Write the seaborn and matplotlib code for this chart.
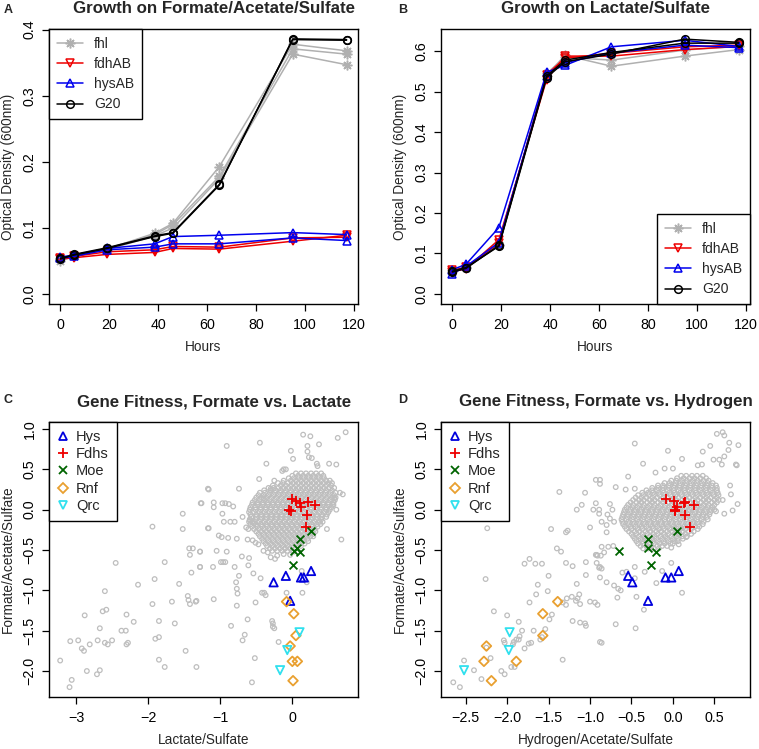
import numpy as np
import pandas as pd
import matplotlib
matplotlib.use('Agg')
import matplotlib.pyplot as plt
import seaborn as sns
from matplotlib.lines import Line2D

# ---- growth curves (panels A and B) ----
hours = [0, 5.5, 19, 38.5, 46, 65, 95, 117]
strains = ['fhl', 'fdhAB', 'hysAB', 'G20']

# formate/acetate/sulfate, replicates per strain
fa_fhl = [[0.050, 0.057, 0.068, 0.092, 0.107, 0.193, 0.378, 0.368],
          [0.053, 0.058, 0.069, 0.090, 0.105, 0.178, 0.371, 0.363],
          [0.055, 0.059, 0.067, 0.088, 0.100, 0.175, 0.363, 0.347]]
fa_fdhAB = [[0.053, 0.055, 0.060, 0.063, 0.069, 0.068, 0.080, 0.089],
            [0.055, 0.057, 0.064, 0.067, 0.072, 0.071, 0.085, 0.086]]
fa_hysAB = [[0.056, 0.059, 0.069, 0.076, 0.087, 0.089, 0.093, 0.090],
            [0.054, 0.057, 0.067, 0.071, 0.076, 0.076, 0.085, 0.081]]
fa_g20 = [[0.054, 0.059, 0.069, 0.087, 0.092, 0.165, 0.386, 0.385],
          [0.053, 0.060, 0.070, 0.088, 0.093, 0.166, 0.385, 0.384]]

# lactate/sulfate
la_fhl = [[0.058, 0.066, 0.122, 0.540, 0.590, 0.563, 0.588, 0.604],
          [0.055, 0.064, 0.120, 0.545, 0.585, 0.578, 0.603, 0.612]]
la_fdhAB = [[0.055, 0.062, 0.134, 0.530, 0.588, 0.588, 0.604, 0.612],
            [0.058, 0.066, 0.125, 0.542, 0.583, 0.595, 0.611, 0.615]]
la_hysAB = [[0.060, 0.073, 0.164, 0.548, 0.565, 0.611, 0.627, 0.612],
            [0.050, 0.068, 0.127, 0.540, 0.572, 0.596, 0.615, 0.609]]
la_g20 = [[0.056, 0.065, 0.118, 0.535, 0.574, 0.593, 0.630, 0.622],
          [0.054, 0.063, 0.120, 0.538, 0.578, 0.597, 0.620, 0.620]]

# ---- gene fitness (panels C and D) ----
# background genes, panel C (lactate x, formate y)
c_bg_x = [-1.17, -1.27, -1.52, -1.94, -1.52, -1.17, -1.43, -1.38, -1.42, -1.28, -2.45, -1.77,
          -1.40, -1.28, -1.91, -2.14, -1.57, -2.60, -1.45, -1.44, -1.42, -1.34, -1.33, -1.94,
          -1.67, -2.63, -2.58, -2.88, -2.30, -1.85, -1.63, -2.20, -2.67, -2.37, -2.31, -3.08,
          -2.97, -2.81, -2.70, -2.60, -2.56, -2.50, -2.30, -2.28, -1.90, -1.85, -2.92, -2.89,
          -1.48, -3.22, -1.85, -1.77, -1.33, -2.85, -2.71, -2.67, -3.06, -3.09,
          -0.91, -0.45, 0.15, 0.25, 0.74, 0.63, -0.02, 0.21, 0.37, 0.21, 0.23, 0.27, 0.01,
          -0.36, 0.34, 0.35, 0.51, 0.61, -0.12, -0.09, -0.14, -1.16, -0.74, -0.46, -0.30,
          -0.25, -0.40, -1.26, -1.09, -0.97, -0.93, -0.88, -0.82, -1.09, -0.97, -1.16, -0.95,
          -0.86, -0.80, -0.69, -0.59, -0.56, -0.53, -0.64, -0.61, -1.02, -0.98, -0.89, -0.77,
          -0.62, -0.55, -0.51, -0.47, -1.05, -0.91, -0.70, -0.60, -0.40, -0.34, -0.30, -0.24,
          -0.21, -0.12, -0.03, 0.02, -0.10, -1.28, -1.28, -1.10, -0.99, -0.96, -0.93, -0.80,
          -0.61, -0.54, -0.44, -0.74, -0.78, -0.77, -0.76, -0.42, -0.39, -0.37, -1.09, -0.51,
          -0.77, -0.62, -0.28, -0.27, -0.27, -0.25, -0.85, -0.66, -0.69, -0.19, -0.52, -0.56,
          -0.08, 0.14, 0.20, 0.68, 0.61, 0.70, 0.58, 0.57, 0.29, 0.48, 0.13, 0.66]
c_bg_y = [0.26, 0.08, -0.05, -0.21, -0.24, -0.23, -0.48, -0.48, -0.56, -0.52, -0.66, -0.65,
          -0.78, -0.71, -0.86, -0.93, -0.92, -1.01, -1.07, -1.12, -1.17, -1.14, -1.13, -1.17,
          -1.14, -1.26, -1.24, -1.31, -1.30, -1.38, -1.41, -1.39, -1.47, -1.50, -1.50, -1.63,
          -1.62, -1.67, -1.62, -1.65, -1.67, -1.62, -1.67, -1.65, -1.60, -1.58, -1.72, -1.75,
          -1.75, -1.87, -1.86, -1.95, -1.95, -2.00, -2.04, -1.99, -2.11, -2.20,
          0.79, 0.83, 0.93, 0.91, 0.96, 0.89, 0.73, 0.79, 0.81, 0.72, 0.65, 0.64, 0.63,
          0.57, 0.57, 0.54, 0.57, 0.56, 0.50, 0.50, 0.48, 0.25, 0.26, 0.38, 0.26,
          0.36, 0.14, 0.08, 0.09, 0.08, 0.08, 0.07, 0.04, 0.03, -0.05, -0.23, -0.15,
          -0.15, -0.15, -0.09, -0.13, -0.15, -0.17, -0.22, -0.24, -0.32, -0.34, -0.35, -0.36,
          -0.37, -0.38, -0.41, -0.43, -0.51, -0.52, -0.58, -0.60, -0.51, -0.53, -0.59, -0.61,
          -0.57, -0.55, -0.56, -0.52, -0.48, -0.52, -0.71, -0.71, -0.65, -0.65, -0.65, -0.71,
          -0.69, -0.79, -0.85, -0.82, -0.90, -0.98, -1.04, -1.03, -1.03, -1.06, -1.11, -1.15,
          -1.19, -1.36, -1.38, -1.41, -1.45, -1.47, -1.44, -1.55, -1.62, -1.64, -1.84, -2.14,
          -1.03, -1.03, -0.90, -0.37, 0.00, 0.19, 0.14, 0.06, -0.33, -0.24, -0.76, 0.21]
# dense core of panel C, one row of lactate values per formate level
c_core = [(0.45, [0.05, 0.12, 0.19, 0.26, 0.33, 0.40]),
          (0.42, [0.00, 0.08, 0.15, 0.22, 0.29, 0.36, 0.43]),
          (0.39, [-0.05, 0.02, 0.09, 0.16, 0.23, 0.30, 0.37, 0.44]),
          (0.36, [-0.12, -0.02, 0.05, 0.12, 0.19, 0.26, 0.33, 0.40, 0.47, 0.52]),
          (0.33, [-0.20, -0.13, -0.06, 0.01, 0.08, 0.15, 0.22, 0.29, 0.36, 0.43, 0.50, 0.55]),
          (0.30, [-0.27, -0.16, -0.09, -0.02, 0.05, 0.12, 0.19, 0.26, 0.33, 0.40, 0.47, 0.54]),
          (0.27, [-0.33, -0.26, -0.19, -0.12, -0.05, 0.02, 0.09, 0.16, 0.23, 0.30, 0.37, 0.44,
                  0.51, 0.58]),
          (0.24, [-0.39, -0.30, -0.23, -0.16, -0.09, -0.02, 0.05, 0.12, 0.19, 0.26, 0.33, 0.40,
                  0.47, 0.55]),
          (0.21, [-0.45, -0.38, -0.31, -0.24, -0.17, -0.10, -0.03, 0.04, 0.11, 0.18, 0.25, 0.32,
                  0.39, 0.46, 0.53, 0.60]),
          (0.18, [-0.47, -0.40, -0.33, -0.26, -0.19, -0.12, -0.05, 0.02, 0.09, 0.16, 0.23, 0.30,
                  0.37, 0.44, 0.51, 0.58]),
          (0.15, [-0.50, -0.43, -0.36, -0.29, -0.22, -0.15, -0.08, -0.01, 0.06, 0.13, 0.20, 0.27,
                  0.34, 0.41, 0.48, 0.55, 0.60]),
          (0.12, [-0.52, -0.45, -0.38, -0.31, -0.24, -0.17, -0.10, -0.03, 0.04, 0.11, 0.18, 0.25,
                  0.32, 0.39, 0.46, 0.53, 0.59]),
          (0.09, [-0.55, -0.48, -0.41, -0.34, -0.27, -0.20, -0.13, -0.06, 0.01, 0.08, 0.15, 0.22,
                  0.29, 0.36, 0.43, 0.50, 0.57]),
          (0.06, [-0.56, -0.48, -0.41, -0.34, -0.27, -0.20, -0.13, -0.06, 0.01, 0.08, 0.15, 0.22,
                  0.29, 0.36, 0.43, 0.50, 0.56]),
          (0.03, [-0.58, -0.51, -0.44, -0.37, -0.30, -0.23, -0.16, -0.09, -0.02, 0.05, 0.12, 0.19,
                  0.26, 0.33, 0.40, 0.47, 0.54]),
          (0.00, [-0.59, -0.51, -0.44, -0.37, -0.30, -0.23, -0.16, -0.09, -0.02, 0.05, 0.12, 0.19,
                  0.26, 0.33, 0.40, 0.47, 0.52]),
          (-0.03, [-0.60, -0.53, -0.46, -0.39, -0.32, -0.25, -0.18, -0.11, -0.04, 0.03, 0.10,
                   0.17, 0.24, 0.31, 0.38, 0.45, 0.50]),
          (-0.06, [-0.58, -0.50, -0.43, -0.36, -0.29, -0.22, -0.15, -0.08, -0.01, 0.06, 0.13,
                   0.20, 0.27, 0.34, 0.41, 0.48]),
          (-0.09, [-0.57, -0.50, -0.43, -0.36, -0.29, -0.22, -0.15, -0.08, -0.01, 0.06, 0.13,
                   0.20, 0.27, 0.34, 0.41, 0.47]),
          (-0.12, [-0.59, -0.51, -0.44, -0.37, -0.30, -0.23, -0.16, -0.09, -0.02, 0.05, 0.12,
                   0.19, 0.26, 0.33, 0.40]),
          (-0.15, [-0.60, -0.53, -0.46, -0.39, -0.32, -0.25, -0.18, -0.11, -0.04, 0.03, 0.10,
                   0.17, 0.24, 0.31, 0.38, 0.42]),
          (-0.18, [-0.58, -0.50, -0.43, -0.36, -0.29, -0.22, -0.15, -0.08, -0.01, 0.06, 0.13,
                   0.20, 0.27, 0.34, 0.39]),
          (-0.21, [-0.56, -0.49, -0.42, -0.35, -0.28, -0.21, -0.14, -0.07, 0.00, 0.07, 0.14,
                   0.21, 0.28, 0.35]),
          (-0.24, [-0.53, -0.46, -0.39, -0.32, -0.25, -0.18, -0.11, -0.04, 0.03, 0.10, 0.17,
                   0.24, 0.31]),
          (-0.27, [-0.50, -0.43, -0.36, -0.29, -0.22, -0.15, -0.08, -0.01, 0.06, 0.13, 0.20,
                   0.27, 0.32]),
          (-0.30, [-0.47, -0.40, -0.33, -0.26, -0.19, -0.12, -0.05, 0.02, 0.09, 0.16, 0.23,
                   0.29]),
          (-0.33, [-0.45, -0.38, -0.31, -0.24, -0.17, -0.10, -0.03, 0.04, 0.11, 0.18, 0.25]),
          (-0.36, [-0.42, -0.35, -0.28, -0.21, -0.14, -0.07, 0.00, 0.07, 0.14, 0.21]),
          (-0.39, [-0.40, -0.33, -0.26, -0.19, -0.12, -0.05, 0.02, 0.09, 0.16, 0.22]),
          (-0.42, [-0.37, -0.30, -0.23, -0.16, -0.09, -0.02, 0.05, 0.12, 0.17]),
          (-0.45, [-0.35, -0.28, -0.21, -0.14, -0.07, 0.00, 0.07, 0.12]),
          (-0.48, [-0.31, -0.24, -0.17, -0.10, -0.03, 0.04]),
          (-0.51, [-0.28, -0.21, -0.14, -0.07, 0.00])]

# background genes, panel D (hydrogen x, formate y)
d_bg_x = [-2.24, -2.26, -2.65, -2.57, -2.52, -2.40, -2.31, -2.25, -2.20, -2.16, -2.07, -2.03,
          -2.00, -2.04, -2.03, -1.93, -1.92, -1.95, -1.91, -1.89, -1.86, -1.85, -1.86, -1.82,
          -1.79, -1.74, -1.71, -1.73, -1.79, -1.73, -1.66, -1.58, -1.65, -1.68, -1.63, -1.60,
          -1.58, -1.50, -1.51, -1.49, -1.46, -1.54, -1.33, -1.47, -1.29, -1.27, -1.40, -1.35,
          -1.37, -1.16, -1.10, -1.06, -0.96, -0.89, -1.00, -1.29, -1.21, -1.28, -1.22, -1.17,
          -1.15, -1.12, -1.33, -1.29, -1.21, -1.12, -1.06, -1.05, -1.16, -1.13, -1.05, -1.00,
          -0.93, -0.92, -0.91, -0.89, -1.05, -0.94, -0.91, -0.88, -0.93, -0.88,
          -0.46, -0.06, 0.11, -0.36, -0.21, -0.10, 0.00, -0.54, 0.30, 0.35, 0.45, 0.53, 0.60,
          0.62, 0.68, 0.79, 0.36, 0.49, 0.56, 0.62, 0.67, 0.59, 0.76, -0.88, -0.69, -0.57,
          -0.46, -0.93, -0.89, -0.76, -0.73, -0.79, -0.76, -0.71, -0.86, -0.80, -0.80, -0.86,
          -0.78, -0.72, -0.92, -0.87, -0.83, -0.88, -0.86, -0.88, -0.80, -0.71, -0.66, -0.63,
          -0.67, -0.46, -0.56, -0.61, -0.46, -0.44, -0.34, -0.20, -0.35, -0.69, -0.45, -0.86,
          -0.02, -0.13, 0.11, 0.07, -0.02, 0.16, 0.62, 0.72, 0.78, 0.69, 0.70, 0.77, 0.52, 0.60]
d_bg_y = [-0.23, -0.86, -2.14, -2.20, -1.87, -1.99, -2.10, -1.71, -1.84, -1.26, -2.00, -2.04,
          -1.31, -1.62, -1.65, -1.67, -1.64, -1.95, -1.95, -1.61, -1.61, -1.57, -1.39, -1.50,
          -1.72, -1.66, -1.65, -1.15, -0.67, -0.61, -0.67, -0.67, -1.05, -1.50, -0.93, -1.61,
          -1.58, -0.82, -1.01, -1.36, -1.30, -1.48, -1.86, -0.24, -0.28, -0.26, -0.48, -0.52,
          0.22, 0.00, 0.06, 0.21, 0.00, -0.05, -0.22, -0.66, -0.70, -1.10, -1.08, -1.13,
          -1.10, -1.17, -1.15, -1.18, -1.38, -1.40, -1.41, -1.44, -0.92, -1.05, -0.65, -1.14,
          -0.56, -0.66, -0.57, -0.72, -0.81, -1.15, -1.18, -1.64, 0.37, 0.32,
          0.82, 0.73, 0.63, 0.57, 0.46, 0.51, 0.51, 0.41, 0.55, 0.56, 0.79, 0.94, 0.96,
          0.92, 0.83, 0.80, 0.72, 0.62, 0.62, 0.66, 0.74, 0.56, 0.56, 0.37, 0.28, 0.25,
          0.26, 0.08, 0.00, 0.07, 0.00, -0.06, -0.11, -0.15, -0.15, -0.19, -0.28, -0.46,
          -0.46, -0.45, -0.56, -0.57, -0.53, -0.71, -0.73, -0.84, -0.90, -0.94, -0.98, -1.00,
          -1.09, -0.71, -0.77, -0.78, -0.85, -1.08, -0.77, -0.91, -1.24, -1.42, -1.47, -1.65,
          -0.66, -0.76, -1.03, -0.43, -0.47, -0.34, -0.05, -0.01, 0.07, 0.30, 0.19, 0.55, -0.02,
          0.12]
d_core = [(0.42, [0.10, 0.16, 0.23, 0.29, 0.36]),
          (0.39, [0.05, 0.13, 0.20, 0.26, 0.33, 0.40]),
          (0.36, [-0.02, 0.04, 0.11, 0.17, 0.24, 0.30, 0.37, 0.43]),
          (0.33, [-0.10, -0.04, 0.03, 0.09, 0.16, 0.22, 0.29, 0.35, 0.42, 0.48]),
          (0.30, [-0.18, -0.12, -0.05, 0.02, 0.08, 0.15, 0.21, 0.28, 0.34, 0.41, 0.47, 0.52]),
          (0.27, [-0.25, -0.18, -0.12, -0.05, 0.01, 0.08, 0.14, 0.21, 0.27, 0.34, 0.40, 0.47,
                  0.53]),
          (0.24, [-0.32, -0.25, -0.19, -0.12, -0.06, 0.01, 0.07, 0.14, 0.20, 0.27, 0.33, 0.40,
                  0.46, 0.53]),
          (0.21, [-0.37, -0.30, -0.24, -0.17, -0.11, -0.04, 0.02, 0.09, 0.15, 0.22, 0.28, 0.35,
                  0.41, 0.48, 0.54]),
          (0.18, [-0.42, -0.36, -0.29, -0.23, -0.16, -0.10, -0.03, 0.03, 0.10, 0.16, 0.23, 0.29,
                  0.36, 0.42, 0.49, 0.55]),
          (0.15, [-0.45, -0.38, -0.32, -0.25, -0.19, -0.12, -0.06, 0.01, 0.07, 0.14, 0.20, 0.27,
                  0.33, 0.40, 0.46, 0.53]),
          (0.12, [-0.48, -0.41, -0.35, -0.28, -0.22, -0.15, -0.09, -0.02, 0.04, 0.11, 0.17, 0.24,
                  0.30, 0.37, 0.43, 0.50, 0.55]),
          (0.09, [-0.51, -0.44, -0.38, -0.31, -0.25, -0.18, -0.12, -0.05, 0.01, 0.08, 0.14, 0.21,
                  0.27, 0.34, 0.40, 0.47, 0.53]),
          (0.06, [-0.54, -0.48, -0.41, -0.35, -0.28, -0.22, -0.15, -0.09, -0.02, 0.04, 0.11,
                  0.17, 0.24, 0.30, 0.37, 0.43, 0.50]),
          (0.03, [-0.56, -0.49, -0.43, -0.36, -0.30, -0.23, -0.17, -0.10, -0.04, 0.03, 0.09,
                  0.16, 0.22, 0.29, 0.35, 0.42, 0.48]),
          (0.00, [-0.58, -0.51, -0.45, -0.38, -0.32, -0.25, -0.19, -0.12, -0.06, 0.01, 0.07,
                  0.14, 0.20, 0.27, 0.33, 0.40, 0.46, 0.50]),
          (-0.03, [-0.59, -0.52, -0.46, -0.39, -0.33, -0.26, -0.20, -0.13, -0.07, 0.00, 0.06,
                   0.13, 0.19, 0.26, 0.32, 0.39, 0.45]),
          (-0.06, [-0.60, -0.54, -0.47, -0.41, -0.34, -0.28, -0.21, -0.15, -0.08, -0.02, 0.05,
                   0.11, 0.18, 0.24, 0.31, 0.37, 0.44]),
          (-0.09, [-0.61, -0.55, -0.48, -0.42, -0.35, -0.29, -0.22, -0.16, -0.09, -0.03, 0.04,
                   0.10, 0.17, 0.23, 0.30, 0.36, 0.41]),
          (-0.12, [-0.62, -0.56, -0.49, -0.43, -0.36, -0.30, -0.23, -0.17, -0.10, -0.04, 0.03,
                   0.09, 0.16, 0.22, 0.29, 0.35, 0.42]),
          (-0.15, [-0.61, -0.54, -0.48, -0.41, -0.35, -0.28, -0.22, -0.15, -0.09, -0.02, 0.04,
                   0.11, 0.17, 0.24, 0.30, 0.37]),
          (-0.18, [-0.60, -0.53, -0.47, -0.40, -0.34, -0.27, -0.21, -0.14, -0.08, -0.01, 0.05,
                   0.12, 0.18, 0.25, 0.31, 0.36]),
          (-0.21, [-0.58, -0.51, -0.45, -0.38, -0.32, -0.25, -0.19, -0.12, -0.06, 0.01, 0.07,
                   0.14, 0.20, 0.27, 0.32]),
          (-0.24, [-0.56, -0.50, -0.43, -0.37, -0.30, -0.24, -0.17, -0.11, -0.04, 0.02, 0.09,
                   0.15, 0.22, 0.30]),
          (-0.27, [-0.53, -0.46, -0.40, -0.33, -0.27, -0.20, -0.14, -0.07, -0.01, 0.06, 0.12,
                   0.19, 0.25]),
          (-0.30, [-0.50, -0.44, -0.37, -0.31, -0.24, -0.18, -0.11, -0.05, 0.02, 0.08, 0.15,
                   0.22]),
          (-0.33, [-0.48, -0.41, -0.35, -0.28, -0.22, -0.15, -0.09, -0.02, 0.04, 0.11, 0.17]),
          (-0.36, [-0.46, -0.39, -0.33, -0.26, -0.20, -0.13, -0.07, 0.00, 0.06, 0.12]),
          (-0.39, [-0.44, -0.37, -0.31, -0.24, -0.18, -0.11, -0.05, 0.02, 0.06]),
          (-0.42, [-0.42, -0.36, -0.29, -0.23, -0.16, -0.10, -0.03, 0.00]),
          (-0.45, [-0.39, -0.32, -0.26, -0.19, -0.13, -0.07]),
          (-0.48, [-0.36, -0.30, -0.23, -0.17])]

# highlighted gene groups: formate fitness (y), lactate (panel C x), hydrogen (panel D x)
groups = ['Hys', 'Fdhs', 'Moe', 'Rnf', 'Qrc']
hys_form = [-0.90, -0.82, -1.13, -0.84, -0.84, -0.76]
hys_lact = [-0.26, -0.09, -0.03, 0.12, 0.16, 0.26]
hys_hyd = [-0.49, -0.54, -0.30, -0.09, -0.02, 0.07]
fdh_form = [0.13, 0.11, 0.08, 0.10, 0.06, 0.00, -0.02, 0.03, -0.07, -0.21]
fdh_lact = [0.00, 0.05, 0.10, 0.22, 0.31, -0.05, -0.02, 0.12, 0.21, 0.19]
fdh_hyd = [-0.08, 0.01, 0.13, 0.14, 0.25, 0.02, 0.02, 0.05, 0.15, 0.21]
moe_form = [-0.26, -0.36, -0.47, -0.51, -0.53, -0.69]
moe_lact = [0.26, 0.10, 0.07, 0.02, 0.11, 0.01]
moe_hyd = [0.05, -0.30, -0.30, -0.65, -0.21, -0.26]
rnf_form = [-1.14, -1.29, -1.56, -1.69, -1.88, -1.88, -2.12]
rnf_lact = [-0.08, 0.02, 0.05, -0.03, 0.00, 0.07, 0.01]
rnf_hyd = [-1.39, -1.57, -1.57, -2.25, -2.28, -1.89, -2.19]
qrc_form = [-1.52, -1.74, -1.99]
qrc_lact = [0.10, -0.07, -0.17]
qrc_hyd = [-1.97, -1.98, -2.52]

# ---------------------------------------------------------------
sns.set_style('ticks')
plt.rcParams['font.family'] = ['Liberation Sans', 'DejaVu Sans']
plt.rcParams['axes.edgecolor'] = 'black'
plt.rcParams['axes.linewidth'] = 1.0
plt.rcParams['xtick.color'] = 'black'
plt.rcParams['ytick.color'] = 'black'

colors = {'fhl': '#B0B0B0', 'fdhAB': '#EE0000', 'hysAB': '#0000EE', 'G20': 'black'}
markers = {'fhl': (8, 2, 0), 'fdhAB': 'v', 'hysAB': '^', 'G20': 'o'}
msizes = {'fhl': 7, 'fdhAB': 6.3, 'hysAB': 6.3, 'G20': 5.5}
gcol = {'Hys': '#0000DD', 'Fdhs': '#EE0000', 'Moe': '#006400', 'Rnf': '#E9A030', 'Qrc': '#30E0EE'}
gmark = {'Hys': '^', 'Fdhs': '+', 'Moe': 'x', 'Rnf': 'D', 'Qrc': 'v'}
gsize = {'Hys': 36, 'Fdhs': 55, 'Moe': 32, 'Rnf': 24, 'Qrc': 36}


def growth_frame(sets):
    rows = []
    for strain, reps in zip(strains, sets):
        for r, vals in enumerate(reps):
            for h, v in zip(hours, vals):
                rows.append((strain, r, h, v))
    return pd.DataFrame(rows, columns=['strain', 'rep', 'hours', 'od'])


def core_frame(core):
    xs, ys = [], []
    for yv, row in core:
        xs += row
        ys += [yv] * len(row)
    return xs, ys


fig = plt.figure(figsize=(7.59, 7.49), dpi=100)
W, H = 759.0, 749.0
def axes_px(x0, y0, x1, y1):
    return fig.add_axes([x0 / W, 1 - y1 / H, (x1 - x0) / W, (y1 - y0) / H])

axA = axes_px(49, 29, 358, 304)
axB = axes_px(441, 29, 750, 304)
axC = axes_px(49, 422, 358, 697)
axD = axes_px(441, 422, 750, 697)


def style_axes(ax):
    ax.tick_params(direction='out', length=5, width=0.9, labelsize=10.3)
    ax.tick_params(axis='x', pad=5)
    ax.tick_params(axis='y', pad=4)
    for lab in ax.get_yticklabels():
        lab.set_rotation(90)
        lab.set_va('center')
    for s in ax.spines.values():
        s.set_visible(True)
        s.set_color('black')
    ax.xaxis.set_label_coords(0.5, -0.155)
    ax.yaxis.set_label_coords(-0.133, 0.5)


def growth_panel(ax, df, title, loc):
    for strain in strains:
        sub = df[df['strain'] == strain]
        sns.lineplot(data=sub, x='hours', y='od', units='rep', estimator=None, sort=False,
                     ax=ax, color=colors[strain], marker=markers[strain],
                     markersize=msizes[strain], mfc='none', mec=colors[strain], mew=1.1,
                     lw=1.1, legend=False)
    ax.set_xlim(-4.68, 121.68)
    ax.set_xticks([0, 20, 40, 60, 80, 100, 120])
    ax.set_xlabel('Hours', fontsize=9.8, va='center')
    ax.set_ylabel('Optical Density (600nm)', fontsize=9.8, va='center')
    ax.text(0.533, 1.073, title, transform=ax.transAxes, ha='center', va='center',
            fontsize=12.2, fontweight='bold')
    handles = [Line2D([], [], color=colors[s], marker=markers[s], markersize=msizes[s],
                      mfc='none', mec=colors[s], mew=1.1, lw=1.1) for s in strains]
    leg = ax.legend(handles, strains, loc=loc, frameon=True, fancybox=False,
                    edgecolor='black', framealpha=1, borderaxespad=0, fontsize=10,
                    handlelength=1.9, handletextpad=0.8, labelspacing=0.45, borderpad=0.55)
    leg.get_frame().set_linewidth(1.0)


growth_panel(axA, growth_frame([fa_fhl, fa_fdhAB, fa_hysAB, fa_g20]),
             'Growth on Formate/Acetate/Sulfate', 'upper left')
axA.set_ylim(-0.015, 0.401)
axA.set_yticks([0.0, 0.1, 0.2, 0.3, 0.4])
axA.set_yticklabels(['0.0', '0.1', '0.2', '0.3', '0.4'])

growth_panel(axB, growth_frame([la_fhl, la_fdhAB, la_hysAB, la_g20]),
             'Growth on Lactate/Sulfate', 'lower right')
axB.set_ylim(-0.025, 0.655)
axB.set_yticks([0.0, 0.1, 0.2, 0.3, 0.4, 0.5, 0.6])
axB.set_yticklabels(['0.0', '0.1', '0.2', '0.3', '0.4', '0.5', '0.6'])


def fitness_panel(ax, bg_x, bg_y, core, gx, title, xlabel):
    cx, cy = core_frame(core)
    pts = pd.DataFrame({'x': bg_x + cx, 'y': bg_y + cy})
    sns.scatterplot(data=pts, x='x', y='y', ax=ax, marker='o', s=11, fc='none',
                    ec='#BEBEBE', linewidth=0.9, legend=False, zorder=2)
    gy = [hys_form, fdh_form, moe_form, rnf_form, qrc_form]
    for g, xs, ys in zip(groups, gx, gy):
        filled = gmark[g] in ('+', 'x')
        sns.scatterplot(x=xs, y=ys, ax=ax, marker=gmark[g], s=gsize[g],
                        fc=gcol[g] if filled else 'none', ec=gcol[g],
                        linewidth=1.3, legend=False, zorder=3)
    ax.set_ylim(-2.322, 1.087)
    ax.set_yticks([-2.0, -1.5, -1.0, -0.5, 0.0, 0.5, 1.0])
    ax.set_yticklabels(['\u22122.0', '\u22121.5', '\u22121.0', '\u22120.5', '0.0', '0.5', '1.0'])
    ax.set_xlabel(xlabel, fontsize=9.8, va='center')
    ax.set_ylabel('Formate/Acetate/Sulfate', fontsize=9.8, va='center')
    ax.text(0.533, 1.073, title, transform=ax.transAxes, ha='center', va='center',
            fontsize=12.2, fontweight='bold')
    handles = [Line2D([], [], ls='none', marker=gmark[g], color=gcol[g], mec=gcol[g],
                      mfc='none', mew=1.3, markersize=np.sqrt(gsize[g]) * 0.95)
               for g in groups]
    leg = ax.legend(handles, groups, loc='upper left', frameon=True, fancybox=False,
                    edgecolor='black', framealpha=1, borderaxespad=0, fontsize=10.5,
                    handlelength=0.8, handletextpad=0.5, labelspacing=0.22, borderpad=0.55)
    leg.get_frame().set_linewidth(1.0)


fitness_panel(axC, c_bg_x, c_bg_y, c_core, [hys_lact, fdh_lact, moe_lact, rnf_lact, qrc_lact],
              'Gene Fitness, Formate vs. Lactate', 'Lactate/Sulfate')
axC.set_xlim(-3.375, 0.911)
axC.set_xticks([-3, -2, -1, 0])
axC.set_xticklabels(['\u22123', '\u22122', '\u22121', '0'])

fitness_panel(axD, d_bg_x, d_bg_y, d_core, [hys_hyd, fdh_hyd, moe_hyd, rnf_hyd, qrc_hyd],
              'Gene Fitness, Formate vs. Hydrogen', 'Hydrogen/Acetate/Sulfate')
axD.set_xlim(-2.798, 0.93)
axD.set_xticks([-2.5, -2.0, -1.5, -1.0, -0.5, 0.0, 0.5])
axD.set_xticklabels(['\u22122.5', '\u22122.0', '\u22121.5', '\u22121.0', '\u22120.5', '0.0', '0.5'])

for ax in (axA, axB, axC, axD):
    style_axes(ax)

for letter, (px, py) in zip('ABCD', [(8, 10), (403, 10), (8, 400), (403, 400)]):
    fig.text(px / W, 1 - py / H, letter, ha='center', va='center', fontsize=9,
             fontweight='bold')

fig.savefig('out.png', dpi=100)
